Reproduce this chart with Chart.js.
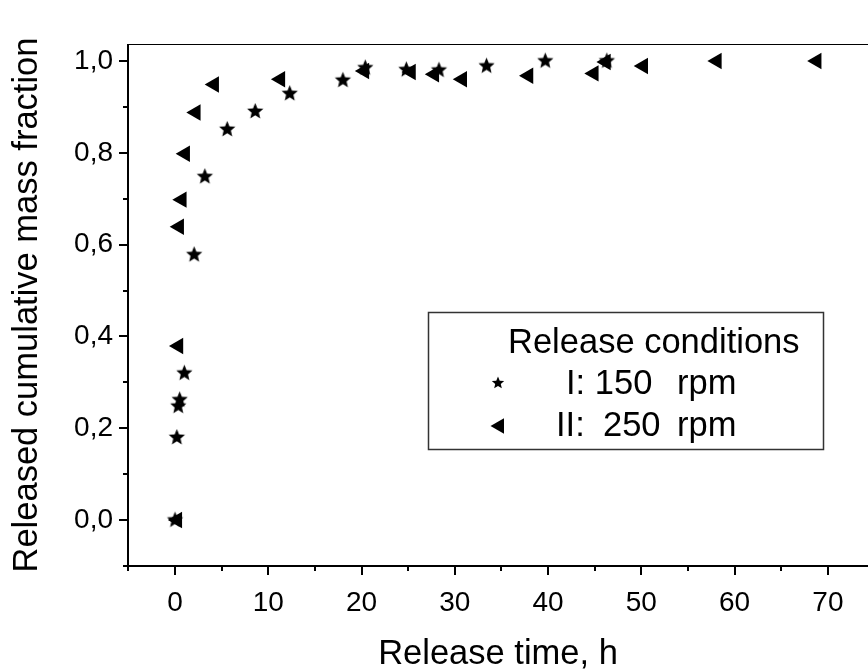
<!DOCTYPE html>
<html>
<head>
<meta charset="utf-8">
<script src="https://cdn.jsdelivr.net/npm/chart.js@4.4.0/dist/chart.umd.min.js"></script>
<style>
  html, body { margin: 0; padding: 0; background: #fff; }
  #wrap { width: 868px; height: 672px; }
</style>
</head>
<body>
<div id="wrap"><canvas id="chart" width="868" height="672"></canvas></div>
<script>
// Serie I: 150 rpm (estrellas)
const timeI = [0, 0.2, 0.35, 0.5, 1.0, 2.05, 3.2, 5.6, 8.6, 12.3, 18.0, 20.4, 24.8, 28.3, 33.4, 39.7, 46.3];
const fracI = [0, 0.18, 0.248, 0.262, 0.32, 0.578, 0.748, 0.851, 0.89, 0.929, 0.958, 0.985, 0.981, 0.98, 0.989, 1.0, 1.0];

// Serie II: 250 rpm (triangulos)
const timeII = [0.25, 0.37, 0.45, 0.73, 1.09, 2.23, 4.2, 11.3, 20.3, 25.3, 27.8, 30.8, 37.9, 44.9, 46.2, 50.2, 58.1, 68.8];
const fracII = [0, 0.379, 0.639, 0.698, 0.798, 0.888, 0.949, 0.96, 0.978, 0.976, 0.971, 0.96, 0.968, 0.973, 0.998, 0.989, 1.0, 1.0];

// Ticks
const xMajor = [0, 10, 20, 30, 40, 50, 60, 70];
const xMinor = [-5, 0, 5, 10, 15, 20, 25, 30, 35, 40, 45, 50, 55, 60, 65, 70];
const yMajor = [0, 0.2, 0.4, 0.6, 0.8, 1.0];
const yMinor = [-0.1, 0, 0.1, 0.2, 0.3, 0.4, 0.5, 0.6, 0.7, 0.8, 0.9, 1.0];

const legendTitle = "Release conditions";
const legendRows = [["I: 150", "rpm"], ["II:", "250", "rpm"]];

const FONT = "'Liberation Sans', Arial, sans-serif";
const TEXT_SIZE = 34.5;

// estrella rellena de 5 puntas como imagen para pointStyle
function makeStar(outer) {
  const size = Math.ceil(outer * 2 + 2);
  const cv = document.createElement("canvas");
  cv.width = size; cv.height = size;
  const c = cv.getContext("2d");
  drawStar(c, size / 2, size / 2, outer);
  return cv;
}
function drawStar(c, cx, cy, outer) {
  const inner = outer * 0.45;
  c.beginPath();
  for (let i = 0; i < 10; i++) {
    const r = i % 2 === 0 ? outer : inner;
    const a = -Math.PI / 2 + i * Math.PI / 5;
    const px = cx + r * Math.cos(a), py = cy + r * Math.sin(a);
    if (i === 0) c.moveTo(px, py); else c.lineTo(px, py);
  }
  c.closePath();
  c.fillStyle = "#000";
  c.fill();
}
function drawTriangleLeft(c, cx, cy, r) {
  c.beginPath();
  c.moveTo(cx - r, cy);
  c.lineTo(cx + r / 2, cy - r * 0.866);
  c.lineTo(cx + r / 2, cy + r * 0.866);
  c.closePath();
  c.fillStyle = "#000";
  c.fill();
}

const starImg = makeStar(8.5);
const isMajor = (list, v) => list.some(m => Math.abs(m - v) < 1e-6);

// ejes, marcas de escala, marco superior y leyenda
const framePlugin = {
  id: "frame",
  afterDraw(chart) {
    const { ctx, chartArea: a, scales: { x, y } } = chart;
    ctx.save();
    ctx.strokeStyle = "#000";
    ctx.lineWidth = 2;
    ctx.beginPath();
    ctx.moveTo(a.left, a.top); ctx.lineTo(a.left, a.bottom);
    ctx.moveTo(a.left - 1, a.bottom); ctx.lineTo(a.right, a.bottom);
    ctx.stroke();
    ctx.lineWidth = 1;
    ctx.beginPath();
    ctx.moveTo(a.left, a.top + 0.5); ctx.lineTo(a.right, a.top + 0.5);
    ctx.stroke();

    ctx.lineWidth = 2;
    ctx.beginPath();
    xMinor.forEach(v => {
      const px = Math.round(x.getPixelForValue(v));
      const len = isMajor(xMajor, v) ? 9 : 5;
      ctx.moveTo(px, a.bottom); ctx.lineTo(px, a.bottom + len);
    });
    yMinor.forEach(v => {
      const py = Math.round(y.getPixelForValue(v));
      const len = isMajor(yMajor, v) ? 9 : 5;
      ctx.moveTo(a.left, py); ctx.lineTo(a.left - len, py);
    });
    ctx.stroke();

    // leyenda
    ctx.strokeStyle = "#333";
    ctx.lineWidth = 1.5;
    ctx.strokeRect(428.5, 312.5, 395, 137);
    ctx.fillStyle = "#000";
    ctx.font = TEXT_SIZE + "px " + FONT;
    ctx.textBaseline = "middle";
    ctx.textAlign = "left";
    ctx.fillText(legendTitle, 508, 343);

    drawStar(ctx, 498, 383, 6.5);
    ctx.fillText(legendRows[0][0], 566, 384);
    ctx.fillText(legendRows[0][1], 677, 384);

    drawTriangleLeft(ctx, 499.5, 426, 9);
    ctx.fillText(legendRows[1][0], 556, 426);
    ctx.fillText(legendRows[1][1], 603, 426);
    ctx.fillText(legendRows[1][2], 677, 426);
    ctx.restore();
  }
};

new Chart(document.getElementById("chart"), {
  type: "scatter",
  data: {
    datasets: [
      {
        label: "I: 150 rpm",
        data: timeI.map((t, i) => ({ x: t, y: fracI[i] })),
        pointStyle: starImg,
        pointRadius: 8,
        backgroundColor: "#000",
        borderColor: "#000",
      },
      {
        label: "II: 250 rpm",
        data: timeII.map((t, i) => ({ x: t, y: fracII[i] })),
        pointStyle: "triangle",
        rotation: -90,
        pointRadius: 9.5,
        borderWidth: 0,
        backgroundColor: "#000",
        borderColor: "#000",
      },
    ],
  },
  options: {
    responsive: false,
    devicePixelRatio: 1,
    animation: false,
    layout: { autoPadding: false, padding: { top: 44, right: 0, left: 0, bottom: 0 } },
    plugins: { legend: { display: false }, tooltip: { enabled: false } },
    scales: {
      x: {
        type: "linear",
        min: -5.04,
        max: 74.3,
        border: { display: false },
        grid: { display: false, drawTicks: false },
        afterBuildTicks: s => { s.ticks = xMinor.map(v => ({ value: v })); },
        afterFit: s => { s.height = 106; s.paddingLeft = 0; s.paddingRight = 0; },
        ticks: {
          autoSkip: false,
          maxRotation: 0,
          padding: 20,
          color: "#000",
          font: { family: FONT, size: 28 },
          callback: v => isMajor(xMajor, v) ? String(v) : "",
        },
        title: {
          display: true,
          text: "Release time, h",
          color: "#000",
          font: { family: FONT, size: TEXT_SIZE, lineHeight: 1 },
          padding: { top: 0, bottom: 0 },
        },
      },
      y: {
        type: "linear",
        min: -0.1,
        max: 1.037,
        border: { display: false },
        grid: { display: false, drawTicks: false },
        afterBuildTicks: s => { s.ticks = yMinor.map(v => ({ value: v })); },
        afterFit: s => { s.width = 128; s.paddingTop = 0; s.paddingBottom = 0; },
        ticks: {
          autoSkip: false,
          padding: 15,
          color: "#000",
          font: { family: FONT, size: 28 },
          callback: v => isMajor(yMajor, v) ? v.toFixed(1).replace(".", ",") : "",
        },
        title: {
          display: true,
          text: "Released cumulative mass fraction",
          color: "#000",
          font: { family: FONT, size: TEXT_SIZE, lineHeight: 1 },
          padding: { top: 10, bottom: 0 },
        },
      },
    },
  },
  plugins: [framePlugin],
});
</script>
</body>
</html>
